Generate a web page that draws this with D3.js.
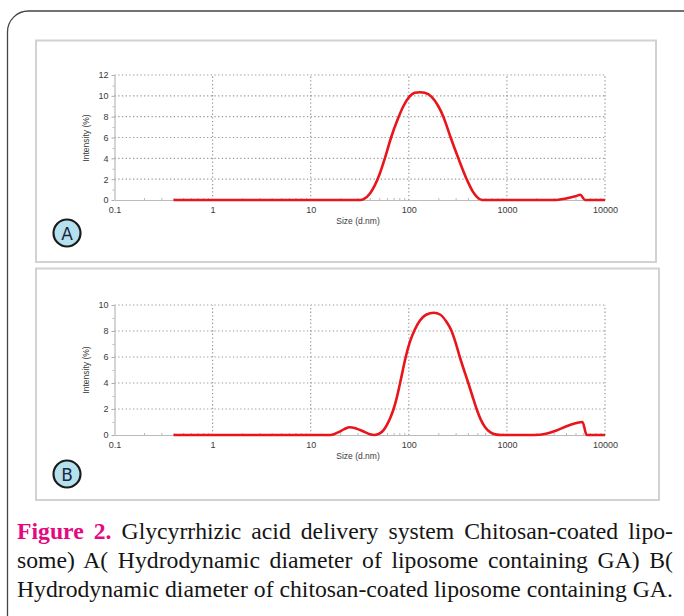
<!DOCTYPE html>
<html>
<head>
<meta charset="utf-8">
<script src="https://cdn.jsdelivr.net/npm/d3@7"></script>
<style>
  body{margin:0;background:#fff;width:684px;height:616px;overflow:hidden;position:relative;}
  svg{position:absolute;left:0;top:0;}
  .cap{position:absolute;left:17px;width:656px;font-family:"Liberation Serif","Times New Roman",serif;font-size:23.7px;line-height:24px;color:#151515;white-space:nowrap;}
  .just{text-align:justify;text-align-last:justify;white-space:normal;}
  .fig{color:#e5097f;font-weight:bold;}
  .tick text{font-family:"Liberation Sans",Arial,sans-serif;font-size:9px;fill:#3a3a3a;}
</style>
</head>
<body>
<svg id="chart" width="684" height="616"></svg>
<div class="cap just" style="top:519px"><span class="fig">Figure 2.</span> Glycyrrhizic acid delivery system Chitosan-coated lipo-</div>
<div class="cap just" style="top:548px">some) A( Hydrodynamic diameter of liposome containing GA) B(</div>
<div class="cap" style="top:577px">Hydrodynamic diameter of chitosan-coated liposome containing GA.</div>
<script>
// size distribution by intensity
const sizesA = [0.4, 32, 35, 40, 45, 50, 57, 66, 76, 88, 101, 115, 130, 145, 171, 200, 225, 267, 320, 389, 450, 500, 560, 3000, 4000, 5000, 5600, 6250, 10000];
const intensityA = [0, 0, 0.1, 0.6, 1.4, 2.4, 4.0, 6.0, 7.6, 9.0, 9.9, 10.3, 10.35, 10.3, 9.9, 9.0, 8.0, 6.0, 4.0, 2.0, 0.8, 0.25, 0, 0, 0.15, 0.35, 0.5, 0, 0];

const sizesB = [0.4, 16, 19, 22, 25, 29, 35, 40, 45, 50, 55, 60, 65, 70, 75, 81, 87, 93, 103, 115, 130, 150, 180, 210, 240, 273, 300, 331, 365, 404, 445, 491, 540, 600, 680, 780, 880, 1900, 2500, 3200, 4000, 5000, 5900, 6500, 10000];
const intensityB = [0, 0, 0.2, 0.45, 0.6, 0.5, 0.25, 0.06, 0, 0.1, 0.35, 0.8, 1.35, 2.0, 2.8, 3.9, 5.0, 6.0, 7.2, 8.1, 8.8, 9.25, 9.4, 9.25, 8.75, 8.0, 7.1, 6.0, 5.0, 4.0, 3.0, 2.0, 1.2, 0.6, 0.2, 0.03, 0, 0, 0.1, 0.35, 0.65, 0.9, 1.0, 0, 0];

const xTicks = [0.1, 1, 10, 100, 1000, 10000];
const yTicksA = [0, 2, 4, 6, 8, 10, 12];
const yTicksB = [0, 2, 4, 6, 8, 10];

const svg = d3.select("#chart");

// outer rounded frame (runs off the right / bottom)
svg.append("rect")
  .attr("x",7.5).attr("y",11).attr("width",700).attr("height",650).attr("rx",21)
  .attr("fill","none").attr("stroke","#444").attr("stroke-width",1.3);

// panel boxes
svg.append("rect").attr("x",36).attr("y",40.5).attr("width",620).attr("height",221.5)
  .attr("fill","none").attr("stroke","#d2d2d2").attr("stroke-width",2);
svg.append("rect").attr("x",36).attr("y",268.5).attr("width",623).attr("height",231.5)
  .attr("fill","none").attr("stroke","#d2d2d2").attr("stroke-width",2);

function panel(cfg, sizes, vals, yTicks, label){
  const g = svg.append("g");
  const x = d3.scaleLog().domain([0.1,10000]).range([114.5,605]);
  const y = d3.scaleLinear().domain([0,d3.max(yTicks)]).range([cfg.yZero,cfg.yTop]);

  // dotted grid
  g.append("g").selectAll("line").data(yTicks.slice(1)).join("line")
    .attr("x1",x(0.1)).attr("x2",x(10000))
    .attr("y1",d=>y(d)).attr("y2",d=>y(d))
    .attr("stroke","#999").attr("stroke-width",1.2).attr("stroke-dasharray","1.3,2.4");
  g.append("g").selectAll("line").data(xTicks.slice(1)).join("line")
    .attr("x1",d=>x(d)).attr("x2",d=>x(d))
    .attr("y1",y(0)).attr("y2",y(d3.max(yTicks)))
    .attr("stroke","#999").attr("stroke-width",1.2).attr("stroke-dasharray","1.3,2.4");

  // y axis
  const ya = g.append("g").attr("transform",`translate(${x(0.1)},0)`)
    .call(d3.axisLeft(y).tickValues(yTicks).tickFormat(d3.format("d")).tickSizeInner(3).tickSizeOuter(0).tickPadding(3));
  ya.select(".domain").attr("stroke","#aaa");
  ya.selectAll(".tick line").attr("stroke","#aaa");
  const minorY = d3.range(1,d3.max(yTicks),2);
  g.append("g").attr("transform",`translate(${x(0.1)},0)`)
    .call(d3.axisLeft(y).tickValues(minorY).tickFormat("").tickSizeInner(2).tickSizeOuter(0))
    .call(a=>{a.select(".domain").remove(); a.selectAll("line").attr("stroke","#bbb");});

  // x axis
  const xa = g.append("g").attr("transform",`translate(0,${y(0)})`)
    .call(d3.axisBottom(x).tickValues(xTicks).tickFormat(d3.format("~g")).tickSize(0).tickPadding(7));
  xa.select(".domain").attr("stroke","#bbb");
  const minorX = [];
  xTicks.slice(0,-1).forEach(d=>{ for(let k=2;k<10;k++) minorX.push(d*k); });
  g.append("g").attr("transform",`translate(0,${y(0)})`)
    .call(d3.axisBottom(x).tickValues(minorX).tickFormat("").tickSizeInner(-2).tickSizeOuter(0))
    .call(a=>{a.select(".domain").remove(); a.selectAll("line").attr("stroke","#bbb");});

  // axis titles
  g.append("text").attr("x",358).attr("y",y(0)+24)
    .attr("text-anchor","middle").attr("font-family","Liberation Sans, Arial, sans-serif")
    .attr("font-size",8.5).attr("fill","#3a3a3a").text("Size (d.nm)");
  g.append("text").attr("transform",`translate(89,${cfg.titleY}) rotate(-90)`)
    .attr("text-anchor","middle").attr("font-family","Liberation Sans, Arial, sans-serif")
    .attr("font-size",8.5).attr("fill","#3a3a3a").text("Intensity (%)");

  // distribution curve
  const pts = sizes.map((s,i)=>[s,vals[i]]);
  g.append("path").datum(pts)
    .attr("d", d3.line().x(d=>x(d[0])).y(d=>y(d[1])).curve(d3.curveMonotoneX))
    .attr("fill","none").attr("stroke","#e8151b").attr("stroke-width",2.6)
    .attr("stroke-linejoin","round");

  // panel letter badge
  g.append("circle").attr("cx",67).attr("cy",cfg.badgeY).attr("r",13.5)
    .attr("fill","#b5e1ef").attr("stroke","#1b1b1b").attr("stroke-width",2.2);
  g.append("text").attr("x",67).attr("y",cfg.badgeY+6.5)
    .attr("text-anchor","middle").attr("font-family","DejaVu Sans, sans-serif")
    .attr("font-size",17).attr("fill","#1c2540").text(label);
}

panel({yZero:200, yTop:75, titleY:138, badgeY:233}, sizesA, intensityA, yTicksA, "A");
panel({yZero:435, yTop:305, titleY:370, badgeY:474}, sizesB, intensityB, yTicksB, "B");
</script>
</body>
</html>
